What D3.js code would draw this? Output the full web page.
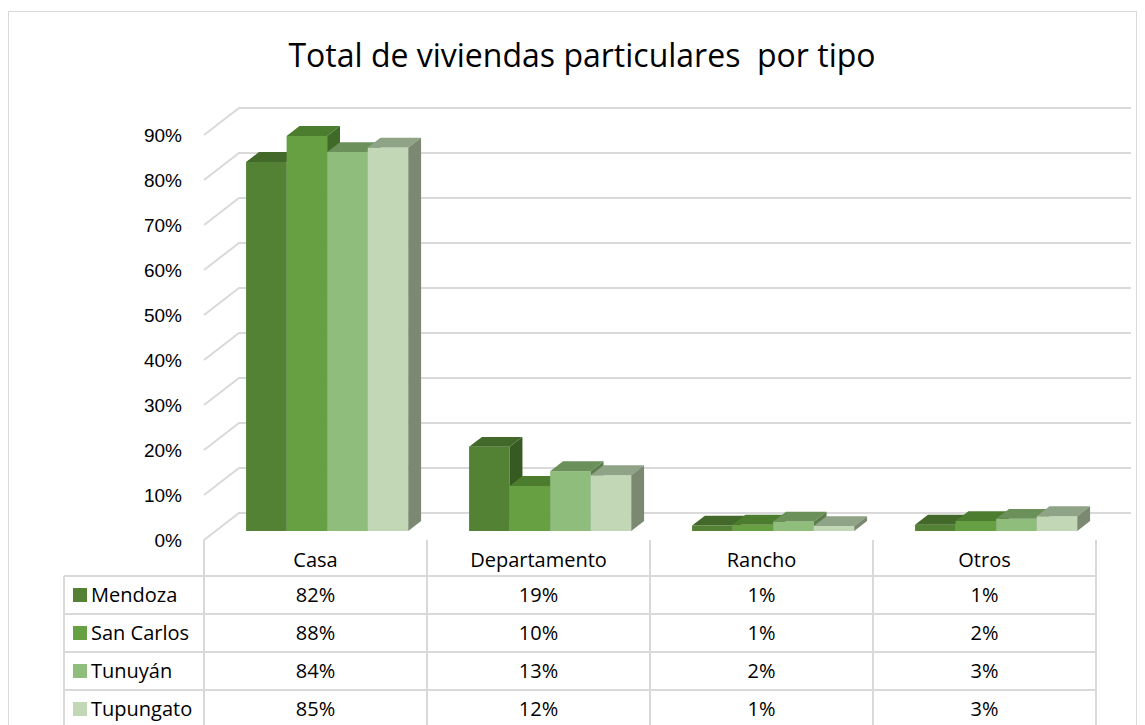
<!DOCTYPE html>
<html>
<head>
<meta charset="utf-8">
<script src="https://cdn.jsdelivr.net/npm/d3@7"></script>
<style>
  body { margin: 0; background: #fff; }
  svg { display: block; font-family: "Open Sans", sans-serif; }
</style>
</head>
<body>
<svg width="1145" height="725"></svg>
<script>
// datos
const categories = ["Casa", "Departamento", "Rancho", "Otros"];
const series = ["Mendoza", "San Carlos", "Tunuyán", "Tupungato"];
const mendoza = [0.82, 0.187, 0.012, 0.014];
const sanCarlos = [0.878, 0.10, 0.014, 0.022];
const tunuyan = [0.842, 0.133, 0.021, 0.027];
const tupungato = [0.852, 0.124, 0.011, 0.033];
const yTicks = [0, 0.1, 0.2, 0.3, 0.4, 0.5, 0.6, 0.7, 0.8, 0.9];

const values = [mendoza, sanCarlos, tunuyan, tupungato];

// colores: frente, tapa, lateral
const front = ["#548235", "#67a042", "#8fbd7b", "#c2d7b6"];
const top_ = ["#43692a", "#4c7d2f", "#6b9059", "#8fa386"];
const side = ["#375a22", "#3f6a27", "#5c7d4c", "#7b8872"];

const svg = d3.select("svg");
const grid = "#d9d9d9";

// marco exterior
svg.append("rect")
    .attr("x", 8.5).attr("y", 11.5)
    .attr("width", 1128).attr("height", 740)
    .attr("fill", "none").attr("stroke", grid);

svg.append("text")
    .attr("x", 582).attr("y", 67)
    .attr("text-anchor", "middle")
    .attr("font-size", 32)
    .attr("fill", "#000")
    .text("Total de viviendas particulares\u00a0 por tipo");

const y = d3.scaleLinear().domain([0, 0.9]).range([540, 135]);
const x = d3.scaleBand().domain(categories).range([204, 1096]);
const xs = d3.scaleBand().domain(series).range([0, x.bandwidth()])
    .paddingInner(0).paddingOuter(0.75);

// profundidad del 3D
const DX = 35, DY = -27;
const f0 = 1 / 3, f1 = 0.7;
const P = (px, v, f) => [px + DX * f, y(v) + DY * f];

// cuadricula: pared lateral y pared del fondo
const g = svg.append("g").attr("stroke", grid).attr("stroke-width", 2);
yTicks.forEach(t => {
    const a = P(204, t, 0), b = P(204, t, 1), c = P(1096, t, 1);
    g.append("polyline")
        .attr("points", [a, b, c].map(p => p.join(",")).join(" "))
        .attr("fill", "none");
});

// eje y
const ax = svg.append("g")
    .attr("transform", "translate(190,0)")
    .call(d3.axisLeft(y).tickValues(yTicks).tickFormat(d3.format(".0%")).tickSize(0).tickPadding(8));
ax.select(".domain").remove();
ax.selectAll("text").attr("font-size", 19).attr("fill", "#000")
    .attr("font-family", null);

// barras
const bars = svg.append("g");
categories.forEach((c, ci) => {
    series.forEach((s, si) => {
        const v = values[si][ci];
        const x0 = x(c) + xs(s), x1 = x0 + xs.bandwidth();
        const poly = pts => pts.map(p => p.join(",")).join(" ");
        bars.append("polygon")
            .attr("points", poly([P(x0, 0, f0), P(x1, 0, f0), P(x1, v, f0), P(x0, v, f0)]))
            .attr("fill", front[si]);
        bars.append("polygon")
            .attr("points", poly([P(x0, v, f0), P(x1, v, f0), P(x1, v, f1), P(x0, v, f1)]))
            .attr("fill", top_[si]);
        bars.append("polygon")
            .attr("points", poly([P(x1, 0, f0), P(x1, v, f0), P(x1, v, f1), P(x1, 0, f1)]))
            .attr("fill", side[si]);
    });
});

// tabla de datos
const rowTop = 576, rowH = 38, tableLeft = 64;
const t = svg.append("g");
const cols = categories.map(c => x(c)).concat([x.range()[1]]);
cols.forEach(cx => {
    t.append("line").attr("x1", cx).attr("x2", cx)
        .attr("y1", 540).attr("y2", 730)
        .attr("stroke", grid).attr("stroke-width", 2);
});
t.append("line").attr("x1", tableLeft).attr("x2", tableLeft)
    .attr("y1", rowTop).attr("y2", 730)
    .attr("stroke", grid).attr("stroke-width", 2);
d3.range(series.length + 1).forEach(i => {
    t.append("line").attr("x1", tableLeft).attr("x2", x.range()[1])
        .attr("y1", rowTop + i * rowH).attr("y2", rowTop + i * rowH)
        .attr("stroke", grid).attr("stroke-width", 2);
});

categories.forEach(c => {
    t.append("text")
        .attr("x", x(c) + x.bandwidth() / 2).attr("y", 560)
        .attr("dy", "0.35em").attr("text-anchor", "middle")
        .attr("font-size", 20).text(c);
});

series.forEach((s, si) => {
    const cy = rowTop + si * rowH + rowH / 2;
    t.append("rect").attr("x", 73).attr("y", cy - 7)
        .attr("width", 14).attr("height", 14).attr("fill", front[si]);
    t.append("text").attr("x", 91).attr("y", cy).attr("dy", "0.35em")
        .attr("font-size", 20).text(s);
    categories.forEach((c, ci) => {
        t.append("text")
            .attr("x", x(c) + x.bandwidth() / 2).attr("y", cy)
            .attr("dy", "0.35em").attr("text-anchor", "middle")
            .attr("font-size", 20)
            .text(Math.round(values[si][ci] * 100) + "%");
    });
});
</script>
</body>
</html>
